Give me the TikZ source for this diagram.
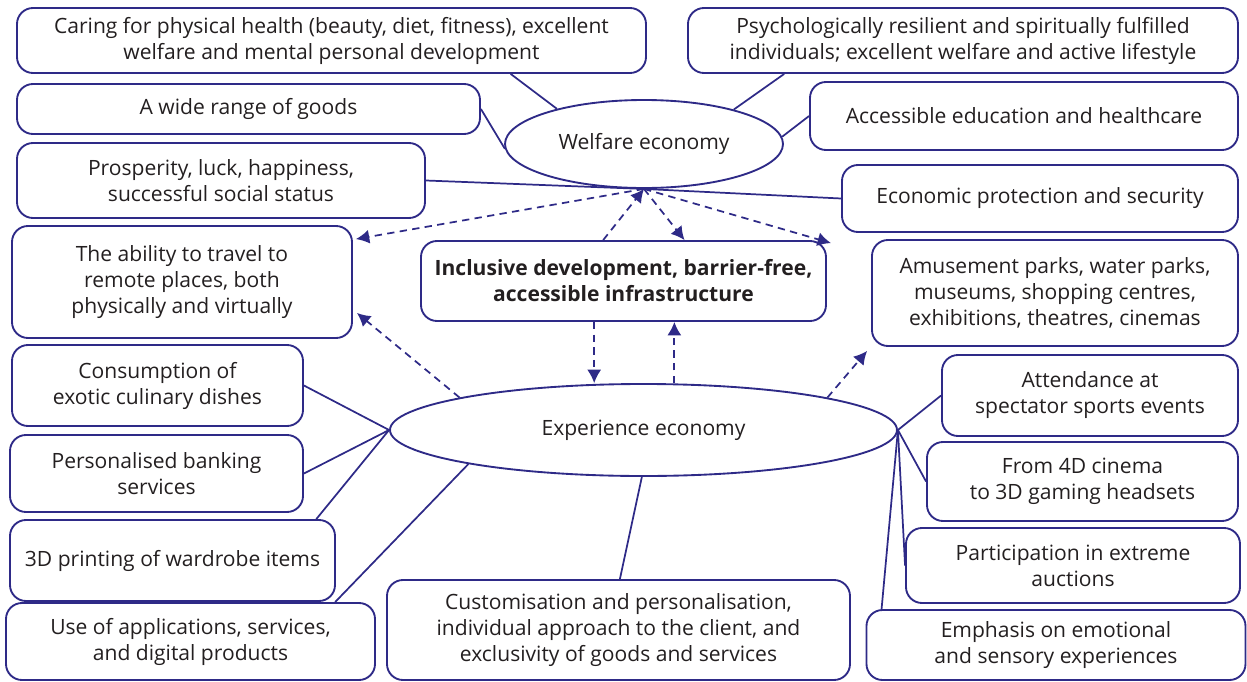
\documentclass[tikz,border=0pt]{standalone}
\usepackage{fontspec}
\setmainfont{Open Sans}
\usetikzlibrary{arrows.meta,calc,shapes.geometric}
\definecolor{navy}{RGB}{46,42,135}
\definecolor{txt}{RGB}{35,31,32}
\tikzset{
  box/.style={draw=navy, line width=1.4pt, rounded corners=12pt, align=center, text=txt,
    font=\fontsize{15.8}{19.5}\selectfont, inner sep=0pt},
  oval/.style={draw=navy, line width=1.4pt, ellipse, text=txt, inner sep=0pt,
    font=\fontsize{15.8}{19.5}\selectfont},
  link/.style={draw=navy, line width=1.3pt},
  darr/.style={draw=navy, line width=1.3pt, dash pattern=on 5.5pt off 4pt,
    -{Latex[length=10pt,width=10.5pt]}},
}
\begin{document}
\begin{tikzpicture}[x=0.75pt,y=-0.75pt]
\useasboundingbox (0,0) rectangle (1247,682);
% welfare side
\node[box, minimum width=629*0.75pt, minimum height=65*0.75pt] (A) at (331.5,40.5)
  {Caring for physical health (beauty, diet, fitness), excellent\\welfare and mental personal development};
\node[box, minimum width=550*0.75pt, minimum height=65*0.75pt] (B) at (963,40.5)
  {Psychologically resilient and spiritually fulfilled\\individuals; excellent welfare and active lifestyle};
\node[box, minimum width=463*0.75pt, minimum height=50*0.75pt] (C) at (248.5,109)
  {A wide range of goods};
\node[box, minimum width=428*0.75pt, minimum height=68*0.75pt] (D) at (1024,116)
  {Accessible education and healthcare};
\node[box, minimum width=408*0.75pt, minimum height=75*0.75pt] (E) at (221,180.5)
  {Prosperity, luck, happiness,\\successful social status};
\node[box, minimum width=396*0.75pt, minimum height=67*0.75pt] (F) at (1040,198.5)
  {Economic protection and security};
\node[box, minimum width=340*0.75pt, minimum height=112*0.75pt] (G) at (182,282)
  {The ability to travel to\\remote places, both\\physically and virtually};
\node[box, minimum width=405*0.75pt, minimum height=80*0.75pt, font=\fontsize{15.8}{19.5}\selectfont\bfseries] (H) at (623.5,281)
  {Inclusive development, barrier-free,\\accessible infrastructure};
\node[box, minimum width=366*0.75pt, minimum height=106*0.75pt] (I) at (1055,293)
  {Amusement parks, water parks,\\museums, shopping centres,\\exhibitions, theatres, cinemas};
\node[oval, minimum width=278*0.75pt, minimum height=88*0.75pt] (W) at (644,144) {Welfare economy};
% experience side
\node[oval, minimum width=507*0.75pt, minimum height=92*0.75pt] (X) at (643.5,430) {Experience economy};
\node[box, minimum width=291*0.75pt, minimum height=81*0.75pt] (J) at (157.5,385.5)
  {Consumption of\\exotic culinary dishes};
\node[box, minimum width=296*0.75pt, minimum height=81*0.75pt] (K) at (1090,395.5)
  {Attendance at\\spectator sports events};
\node[box, minimum width=293*0.75pt, minimum height=77*0.75pt] (L) at (156.5,473.5)
  {Personalised banking\\services};
\node[box, minimum width=311*0.75pt, minimum height=79*0.75pt] (M) at (1082.5,481.5)
  {From 4D cinema\\to 3D gaming headsets};
\node[box, minimum width=325*0.75pt, minimum height=81*0.75pt] (N) at (172.5,560.5)
  {3D printing of wardrobe items};
\node[box, minimum width=334*0.75pt, minimum height=75*0.75pt] (O) at (1073,565.5)
  {Participation in extreme\\auctions};
\node[box, minimum width=463*0.75pt, minimum height=100*0.75pt] (P) at (618.5,630)
  {Customisation and personalisation,\\individual approach to the client, and\\exclusivity of goods and services};
\node[box, minimum width=369*0.75pt, minimum height=77*0.75pt] (Q) at (190.5,641.5)
  {Use of applications, services,\\and digital products};
\node[box, minimum width=379*0.75pt, minimum height=70*0.75pt] (R) at (1056,645)
  {Emphasis on emotional\\and sensory experiences};
% welfare links
\draw[link] ($(A.south west)!0.784!(A.south east)$) -- (W.158);
\draw[link] ($(B.south west)!0.176!(B.south east)$) -- (W.21);
\draw[link] (C.east) -- (W.182);
\draw[link] (D.west) -- (W.3);
\draw[link] (E.east) -- (W.south) -- (F.west);
% dashed arrows round welfare
\coordinate (gt) at ($(G.north east)+(3,14)$);
\coordinate (ht1) at ($(H.north west)!0.45!(H.north east)$);
\coordinate (ht2) at ($(H.north west)!0.65!(H.north east)$);
\coordinate (hne) at ($(H.north east)+(4,3)$);
\draw[darr] (W.south) -- (gt);
\draw[darr] (ht1) -- (W.south);
\draw[darr] (W.south) -- (ht2);
\draw[darr] (W.south) -- (hne);
% dashed arrows round experience
\coordinate (hb1) at ($(H.south west)!0.428!(H.south east)$);
\coordinate (hb2) at ($(H.south west)!0.625!(H.south east)$);
\coordinate (gb) at ($(G.south east)+(4,-26)$);
\coordinate (ib) at ($(I.south west)+(-4,4)$);
\draw[darr] (hb1) -- (hb1 |- X.north);
\draw[darr] (hb2 |- X.north) -- (hb2);
\draw[darr] (X.170) -- (gb);
\draw[darr] (X.10) -- (ib);
% experience links
\draw[link] (J.east) -- (X.west);
\draw[link] (L.east) -- (X.west);
\draw[link] ($(N.north west)!0.94!(N.north east)$) -- (X.west);
\draw[link] ($(Q.north west)!0.89!(Q.north east)$) -- (X.191);
\draw[link] ($(P.north west)!0.503!(P.north east)$) -- (X.268);
\draw[link] (K.west) -- (X.east);
\draw[link] (M.west) -- (X.east);
\draw[link] (O.west) -- (X.east);
\draw[link] ($(R.north west)!0.042!(R.north east)$) -- (X.east);
\end{tikzpicture}
\end{document}
